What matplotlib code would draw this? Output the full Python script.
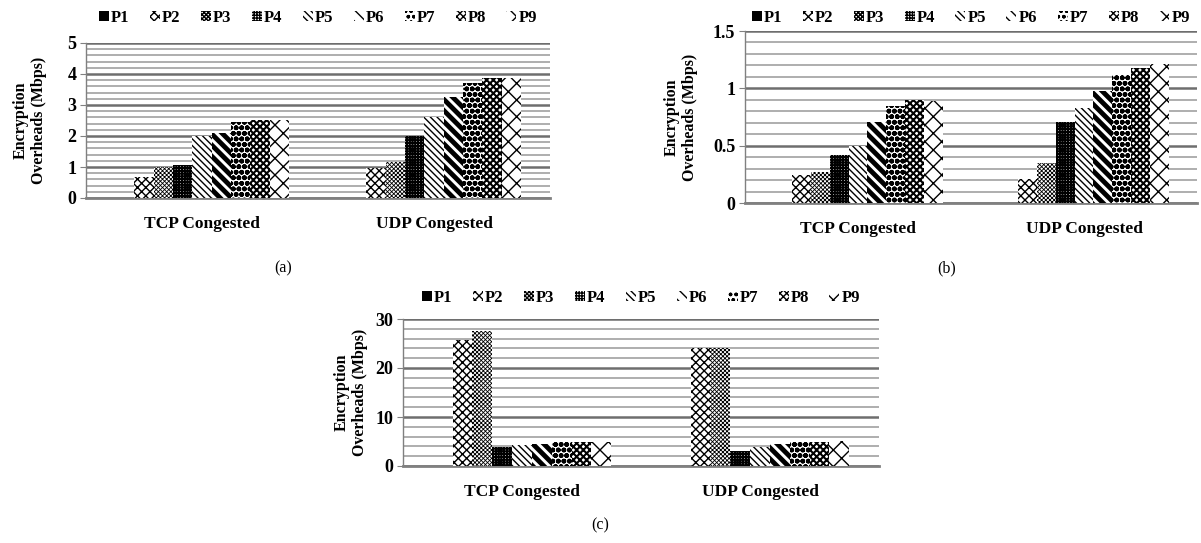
import numpy as np
import matplotlib
matplotlib.use('Agg')
import matplotlib.pyplot as plt
from matplotlib.ticker import MultipleLocator, FuncFormatter
from matplotlib.patches import Patch

plt.rcParams['font.family'] = ['Liberation Serif', 'DejaVu Serif']

# Chart data
categories = ['TCP Congested', 'UDP Congested']
series = ['P1', 'P2', 'P3', 'P4', 'P5', 'P6', 'P7', 'P8', 'P9']

a_tcp = [0, 0.67, 1.0, 1.05, 2.0, 2.1, 2.45, 2.52, 2.5]
a_udp = [0, 0.97, 1.17, 2.0, 2.6, 3.25, 3.7, 3.86, 3.86]

b_tcp = [0, 0.24, 0.27, 0.42, 0.5, 0.71, 0.85, 0.9, 0.89]
b_udp = [0, 0.21, 0.345, 0.71, 0.825, 0.98, 1.115, 1.18, 1.21]

c_tcp = [0, 25.8, 27.6, 3.9, 4.2, 4.4, 4.8, 5.0, 4.9]
c_udp = [0, 24.0, 24.0, 3.0, 3.8, 4.4, 4.8, 5.0, 5.2]

# Hatch look of each series (P1 is solid black)
hatches = [None, 'xxxx', 'xxxxxxxx', '++++++', '\\' * 5, '\\' * 3, 'ooo', 'xxxxx', 'xx']
hatch_lws = [1.0, 1.0, 0.6, 1.4, 1.0, 3.5, 1.8, 1.5, 1.0]

W, H = 1201, 543
fig = plt.figure(figsize=(W / 100, H / 100), dpi=100)


def px_rect(left, right, top, bottom):
    return [left / W, 1 - bottom / H, (right - left) / W, (bottom - top) / H]


def draw_panel(rect, tcp, udp, ymax, major, minor, ylab_x, legend_y):
    ax = fig.add_axes(rect)
    x = np.arange(len(categories))
    n = len(series)
    width = 0.75 / n
    for i, name in enumerate(series):
        vals = [tcp[i], udp[i]]
        pos = x - 0.375 + width * (i + 0.5)
        with plt.rc_context({'hatch.linewidth': hatch_lws[i]}):
            if hatches[i] is None:
                ax.bar(pos, vals, width, color='black', linewidth=0, zorder=3)
            else:
                ax.bar(pos, vals, width, facecolor='white', edgecolor='black',
                       hatch=hatches[i], linewidth=0, zorder=3)

    ax.set_xlim(-0.5, 1.5)
    ax.set_ylim(0, ymax)
    ax.yaxis.set_major_locator(MultipleLocator(major))
    ax.yaxis.set_minor_locator(MultipleLocator(minor))
    ax.grid(axis='y', which='major', color='#6e6e6e', linewidth=1.8, zorder=0)
    ax.grid(axis='y', which='minor', color='#a8a8a8', linewidth=1.3, zorder=0)
    ax.set_axisbelow(True)

    for s in ['top', 'right']:
        ax.spines[s].set_visible(False)
    ax.spines['left'].set_color('#808080')
    ax.spines['left'].set_linewidth(1.0)
    ax.spines['bottom'].set_color('#808080')
    ax.spines['bottom'].set_linewidth(2.0)

    ax.set_xticks(x)
    ax.set_xticklabels(categories, fontsize=12.5, fontweight='bold')
    ax.tick_params(axis='x', length=0, pad=13)
    ax.tick_params(axis='y', which='major', length=4, color='#808080', labelsize=13, pad=3)
    ax.tick_params(axis='y', which='minor', length=0)
    for lab in ax.get_yticklabels():
        lab.set_fontweight('bold')
    ax.yaxis.set_major_formatter(FuncFormatter(lambda v, p: f'{v:g}'))

    handles = []
    for i, name in enumerate(series):
        if hatches[i] is None:
            handles.append(Patch(facecolor='black', linewidth=0, label=name))
        else:
            handles.append(Patch(facecolor='white', edgecolor='black', hatch=hatches[i],
                                 linewidth=0, label=name))
    top_px = H * (1 - rect[1] - rect[3])
    ax.legend(handles=handles, ncol=9, loc='center', frameon=False,
              bbox_to_anchor=(0.5, 1 - (legend_y - top_px) / (rect[3] * H)),
              prop={'weight': 'bold', 'size': 12},
              handlelength=0.6, handleheight=0.6, handletextpad=0.15, columnspacing=1.2,
              borderaxespad=0)

    y_mid = H * (1 - (rect[1] + rect[3] / 2))
    fig.text(ylab_x / W, 1 - y_mid / H, 'Encryption\nOverheads (Mbps)', rotation=90,
             ha='center', va='center', fontsize=11.5, fontweight='bold', linespacing=1.15)
    return ax


draw_panel(px_rect(86, 550, 43, 198), a_tcp, a_udp, 5, 1, 0.2, 30, 18)
draw_panel(px_rect(745, 1197, 31, 203), b_tcp, b_udp, 1.5, 0.5, 0.1, 681, 18)
draw_panel(px_rect(403, 879, 319, 466), c_tcp, c_udp, 30, 10, 2, 351, 298)

fig.text(283 / W, 1 - 268 / H, '(a)', ha='center', va='center', fontsize=11.5)
fig.text(947 / W, 1 - 268 / H, '(b)', ha='center', va='center', fontsize=11.5)
fig.text(600 / W, 1 - 525 / H, '(c)', ha='center', va='center', fontsize=11.5)

fig.savefig('out.png', dpi=100)
